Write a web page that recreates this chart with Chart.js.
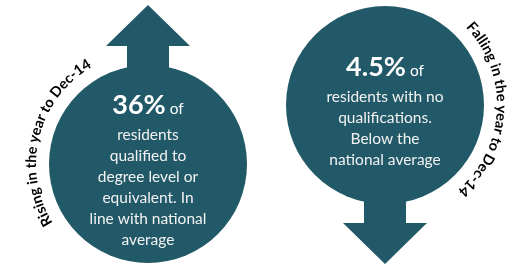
<!DOCTYPE html>
<html>
<head>
<meta charset="utf-8">
<script src="https://cdn.jsdelivr.net/npm/chart.js@4"></script>
<style>
  html, body { margin: 0; background: #fff; }
  #wrap { width: 522px; height: 267px; }
</style>
</head>
<body>
<div id="wrap"><canvas id="c"></canvas></div>
<script>
// data
const categories = ["Degree level or equivalent", "No qualifications"];
const values = [36, 4.5];
const trends = ["up", "down"];
const trendLabels = ["Rising in the year to Dec-14", "Falling in the year to Dec-14"];
const descriptions = [
  ["residents", "qualified to", "degree level or", "equivalent. In", "line with national", "average"],
  ["residents with no", "qualifications.", "Below the", "national average"]
];

const TEAL = "#215968";
const FONT = "Lato, 'Open Sans', sans-serif";
const RAD = 99;

// text along a circle, clockwise, letter bottoms toward the centre
function arcText(ctx, text, cx, cy, r, mid) {
  const total = ctx.measureText(text).width;
  let a = mid - total / r / 2;
  for (const ch of text) {
    const w = ctx.measureText(ch).width;
    a += w / 2 / r;
    ctx.save();
    ctx.translate(cx + r * Math.cos(a), cy + r * Math.sin(a));
    ctx.rotate(a + Math.PI / 2);
    ctx.fillText(ch, 0, 0);
    ctx.restore();
    a += w / 2 / r;
  }
}

const infographic = {
  id: "infographic",
  afterDatasetsDraw(chart) {
    const ctx = chart.ctx, area = chart.chartArea;
    const meta = chart.getDatasetMeta(0);
    meta.data.forEach((pt, i) => {
      const up = trends[i] === "up";
      const cx = pt.x;
      const cy = up ? area.bottom - RAD - 4 : area.top + RAD + 6;
      const s = up ? -1 : 1;
      ctx.save();
      ctx.fillStyle = TEAL;
      // circle
      ctx.beginPath();
      ctx.arc(cx, cy, RAD, 0, Math.PI * 2);
      ctx.fill();
      // arrow
      ctx.beginPath();
      ctx.moveTo(cx - 21, cy + s * (RAD - 20));
      ctx.lineTo(cx - 21, cy + s * 118);
      ctx.lineTo(cx - 42, cy + s * 118);
      ctx.lineTo(cx, cy + s * 159);
      ctx.lineTo(cx + 42, cy + s * 118);
      ctx.lineTo(cx + 21, cy + s * 118);
      ctx.lineTo(cx + 21, cy + s * (RAD - 20));
      ctx.closePath();
      ctx.fill();

      // centre text block
      const lines = descriptions[i];
      const H = 19 + 21 * lines.length + 7;
      const top = cy + 6.5 - H / 2;
      const base = top + 19;
      const big = values[i] + "%";
      ctx.fillStyle = "#fff";
      ctx.textBaseline = "alphabetic";
      ctx.font = "bold 27px " + FONT;
      const wBig = ctx.measureText(big).width;
      ctx.font = "15.5px " + FONT;
      const wOf = ctx.measureText(" of").width;
      const x0 = cx - (wBig + wOf) / 2;
      ctx.textAlign = "left";
      ctx.font = "bold 27px " + FONT;
      ctx.fillText(big, x0, base);
      ctx.font = "15.5px " + FONT;
      ctx.fillText(" of", x0 + wBig, base);
      ctx.textAlign = "center";
      ctx.textBaseline = "middle";
      ctx.fillStyle = "#f2f2f2";
      lines.forEach((l, j) => ctx.fillText(l, cx, base + 21 * (j + 1)));

      // curved trend label
      ctx.fillStyle = "#000";
      ctx.font = "bold 14.5px " + FONT;
      ctx.textAlign = "center";
      ctx.textBaseline = "alphabetic";
      const mid = up ? 194 * Math.PI / 180 : 2.5 * Math.PI / 180;
      arcText(ctx, trendLabels[i], cx, cy, RAD + 13, mid);
      ctx.restore();
    });
  }
};

new Chart(document.getElementById("c"), {
  type: "scatter",
  data: {
    labels: categories,
    datasets: [{ data: values, pointRadius: 0, pointHoverRadius: 0 }]
  },
  options: {
    responsive: true,
    maintainAspectRatio: false,
    animation: false,
    layout: { padding: { left: 29.5, right: 18.5, top: 0, bottom: 0 } },
    plugins: { legend: { display: false }, tooltip: { enabled: false } },
    scales: {
      x: { type: "category", display: false, offset: true },
      y: { display: false, min: 0, max: 100 }
    }
  },
  plugins: [infographic]
});
</script>
</body>
</html>
